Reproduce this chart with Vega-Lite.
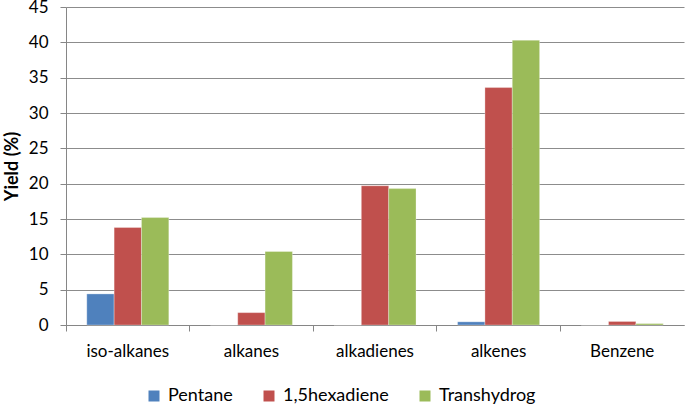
{
  "$schema": "https://vega.github.io/schema/vega-lite/v6.json",
  "width": 618,
  "height": 318,
  "autosize": {"type": "none"},
  "padding": {"left": 66, "top": 7, "right": 1, "bottom": 80},
  "background": "white",
  "config": {
    "font": "Lato",
    "view": {"stroke": null}
  },
  "data": {
    "values": [
      {"category": "iso-alkanes", "series": "Pentane", "yield": 4.4},
      {"category": "iso-alkanes", "series": "1,5hexadiene", "yield": 13.8},
      {"category": "iso-alkanes", "series": "Transhydrog", "yield": 15.2},
      {"category": "alkanes", "series": "Pentane", "yield": 0},
      {"category": "alkanes", "series": "1,5hexadiene", "yield": 1.75},
      {"category": "alkanes", "series": "Transhydrog", "yield": 10.4},
      {"category": "alkadienes", "series": "Pentane", "yield": 0},
      {"category": "alkadienes", "series": "1,5hexadiene", "yield": 19.7},
      {"category": "alkadienes", "series": "Transhydrog", "yield": 19.3},
      {"category": "alkenes", "series": "Pentane", "yield": 0.45},
      {"category": "alkenes", "series": "1,5hexadiene", "yield": 33.6},
      {"category": "alkenes", "series": "Transhydrog", "yield": 40.3},
      {"category": "Benzene", "series": "Pentane", "yield": 0},
      {"category": "Benzene", "series": "1,5hexadiene", "yield": 0.5},
      {"category": "Benzene", "series": "Transhydrog", "yield": 0.2}
    ]
  },
  "mark": {"type": "bar", "stroke": "white", "strokeWidth": 0.5, "strokeOpacity": 0.6},
  "encoding": {
    "x": {
      "field": "category",
      "type": "nominal",
      "sort": ["iso-alkanes", "alkanes", "alkadienes", "alkenes", "Benzene"],
      "scale": {"paddingInner": 0, "paddingOuter": 0},
      "axis": {
        "title": null,
        "labelAngle": 0,
        "labelFontSize": 17,
        "labelColor": "#000",
        "labelPadding": 12,
        "bandPosition": 0,
        "tickSize": 6,
        "tickColor": "#868686",
        "domainColor": "#868686",
        "grid": false
      }
    },
    "xOffset": {
      "field": "series",
      "type": "nominal",
      "sort": ["Pentane", "1,5hexadiene", "Transhydrog"],
      "scale": {"paddingInner": 0, "paddingOuter": 0.76}
    },
    "y": {
      "field": "yield",
      "type": "quantitative",
      "scale": {"domain": [0, 45], "nice": false},
      "axis": {
        "title": "Yield (%)",
        "titleFontSize": 18,
        "titleFontWeight": "bold",
        "titleColor": "#000",
        "titlePadding": 7,
        "values": [0, 5, 10, 15, 20, 25, 30, 35, 40, 45],
        "labelFontSize": 17,
        "labelColor": "#000",
        "labelPadding": 12,
        "tickSize": 6,
        "tickColor": "#868686",
        "domainColor": "#868686",
        "gridColor": "#8c8c8c",
        "gridWidth": 1.2
      }
    },
    "color": {
      "field": "series",
      "type": "nominal",
      "sort": ["Pentane", "1,5hexadiene", "Transhydrog"],
      "scale": {
        "domain": ["Pentane", "1,5hexadiene", "Transhydrog"],
        "range": ["#4F81BD", "#C0504D", "#9BBB59"]
      },
      "legend": {
        "title": null,
        "orient": "none",
        "direction": "horizontal",
        "legendX": 79,
        "legendY": 380,
        "symbolType": "square",
        "symbolSize": 121,
        "symbolStrokeWidth": 0,
        "labelFontSize": 18,
        "labelColor": "#000",
        "labelOffset": 5,
        "columnPadding": 27
      }
    }
  }
}
